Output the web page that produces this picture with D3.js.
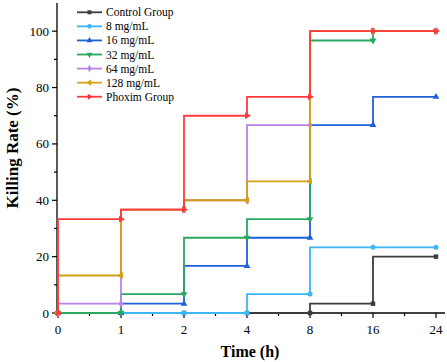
<!DOCTYPE html>
<html><head><meta charset="utf-8">
<script src="https://cdn.jsdelivr.net/npm/d3@7"></script>
<style>body{margin:0;background:#fff}svg{display:block}</style>
</head><body>
<svg id="c" width="447" height="362"></svg>
<script>
const timeLabels = ["0","1","2","4","8","16","24"];
const seriesNames = ["Control Group","8 mg/mL","16 mg/mL","32 mg/mL","64 mg/mL","128 mg/mL","Phoxim Group"];
const control = [0, 0, 0, 0, 0, 3.3, 20];
const mg8 = [0, 0, 0, 0, 6.7, 23.3, 23.3];
const mg16 = [0, 0, 3.3, 16.7, 26.7, 66.7, 76.7];
const mg32 = [0, 0, 6.7, 26.7, 33.3, 96.7, 100];
const mg64 = [0, 3.3, 36.7, 40, 66.7, 100, 100];
const mg128 = [0, 13.3, 36.7, 40, 46.7, 100, 100];
const phoxim = [0, 33.3, 36.7, 70, 76.7, 100, 100];
const yTicks = [0, 20, 40, 60, 80, 100];

const allSeries = [control, mg8, mg16, mg32, mg64, mg128, phoxim];
const colors = ["#3c3c3c","#3cb6f6","#1f62d8","#29a862","#b884e6","#d4a017","#ff3a3a"];
const shapes = [
  {t:d3.symbolSquare, r:0},{t:d3.symbolCircle, r:0},{t:d3.symbolTriangle, r:0},
  {t:d3.symbolTriangle, r:180},{t:d3.symbolDiamond, r:0},{t:d3.symbolTriangle, r:-90},
  {t:d3.symbolTriangle, r:90}];

const svg = d3.select("#c");
const x = d3.scaleLinear().domain([0, 6]).range([58, 436]);
const y = d3.scaleLinear().domain([0, 110]).range([313, 3]);
const font = "'Liberation Serif','Times New Roman',serif";

// axes
const xAxisG = svg.append("g").attr("transform","translate(0,313)");
xAxisG.append("line").attr("x1",57).attr("x2",445).attr("stroke","#000").attr("stroke-width",1.3);
const xMinor = d3.range(0, 6).map(i => i + 0.5);
xAxisG.selectAll(".xt").data(d3.range(7)).join("line")
  .attr("x1",d=>x(d)).attr("x2",d=>x(d)).attr("y1",0).attr("y2",5).attr("stroke","#000").attr("stroke-width",1.2);
xAxisG.selectAll(".xm").data(xMinor).join("line")
  .attr("x1",d=>x(d)).attr("x2",d=>x(d)).attr("y1",0).attr("y2",3).attr("stroke","#000").attr("stroke-width",1.2);
xAxisG.selectAll(".xl").data(timeLabels).join("text")
  .attr("x",(d,i)=>x(i)).attr("y",21).attr("text-anchor","middle")
  .attr("font-family",font).attr("font-size",13).text(d=>d);

const yAxisG = svg.append("g").attr("transform","translate(57,0)");
yAxisG.append("line").attr("y1",313).attr("y2",3).attr("stroke","#000").attr("stroke-width",1.3);
yAxisG.selectAll(".yt").data(yTicks).join("line")
  .attr("y1",d=>y(d)).attr("y2",d=>y(d)).attr("x1",0).attr("x2",-5).attr("stroke","#000").attr("stroke-width",1.2);
yAxisG.selectAll(".ym").data(d3.range(10,110,20)).join("line")
  .attr("y1",d=>y(d)).attr("y2",d=>y(d)).attr("x1",0).attr("x2",-3).attr("stroke","#000").attr("stroke-width",1.2);
yAxisG.selectAll(".yl").data(yTicks).join("text")
  .attr("x",-8).attr("y",d=>y(d)).attr("dy","0.35em").attr("text-anchor","end")
  .attr("font-family",font).attr("font-size",13).text(d=>d);

svg.append("text").attr("x",250).attr("y",357).attr("text-anchor","middle")
  .attr("font-family",font).attr("font-size",16).attr("font-weight","bold").text("Time (h)");
svg.append("text").attr("transform","translate(18,148) rotate(-90)").attr("text-anchor","middle")
  .attr("font-family",font).attr("font-size",17).attr("font-weight","bold").text("Killing Rate (%)");

// lines
const line = d3.line().x((d,i)=>x(i)).y(d=>y(d)).curve(d3.curveStepBefore);
allSeries.forEach((s,k)=>{
  const g = svg.append("g");
  g.append("path").attr("d",line(s)).attr("fill","none").attr("stroke",colors[k]).attr("stroke-width",1.8);
  g.selectAll("path.m").data(s).join("path").attr("class","m")
    .attr("transform",(d,i)=>`translate(${x(i)},${y(d)}) rotate(${shapes[k].r})`)
    .attr("d",d3.symbol().type(shapes[k].t).size(shapes[k].t===d3.symbolDiamond?22:20)).attr("fill",colors[k]);
});

// legend
const lg = svg.append("g");
seriesNames.forEach((n,k)=>{
  const yy = 12.3 + 14.07*k;
  lg.append("line").attr("x1",77).attr("x2",102).attr("y1",yy).attr("y2",yy).attr("stroke",colors[k]).attr("stroke-width",1.8);
  lg.append("path").attr("transform",`translate(89.5,${yy}) rotate(${shapes[k].r})`)
    .attr("d",d3.symbol().type(shapes[k].t).size(16)).attr("fill",colors[k]);
  lg.append("text").attr("x",106).attr("y",yy).attr("dy","0.35em")
    .attr("font-family",font).attr("font-size",11.5).text(n);
});
</script>
</body></html>
